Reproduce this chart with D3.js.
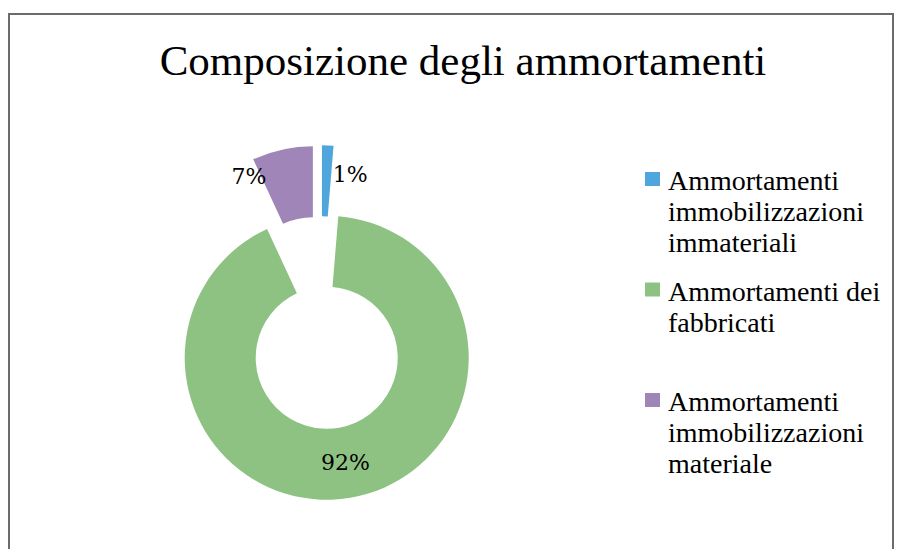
<!DOCTYPE html>
<html>
<head>
<meta charset="utf-8">
<script src="https://cdn.jsdelivr.net/npm/d3@7"></script>
<style>
  html, body { margin: 0; padding: 0; background: #ffffff; }
  svg { display: block; }
</style>
</head>
<body>
<svg id="chart" width="903" height="549"></svg>
<script>
// ---- data ----
const title = "Composizione degli ammortamenti";
const categories = [
  "Ammortamenti immobilizzazioni immateriali",
  "Ammortamenti dei fabbricati",
  "Ammortamenti immobilizzazioni materiale"
];
const legendLines = [
  ["Ammortamenti", "immobilizzazioni", "immateriali"],
  ["Ammortamenti dei", "fabbricati"],
  ["Ammortamenti", "immobilizzazioni", "materiale"]
];
const values = [1.3, 91.8, 6.9];
const colors = ["#4FA6DC", "#8EC283", "#9F85B8"];

// ---- layout ----
const W = 903, H = 549;
const cx = 320.5, cy = 322.8, outerR = 142, innerR = 71, explode = 35.5;
const labelNudge = [[24, -6], [0, 0], [-41, -8]];

const svg = d3.select("#chart");

// chart area border
svg.append("rect")
  .attr("x", 9).attr("y", 14)
  .attr("width", 884).attr("height", 600)
  .attr("fill", "#ffffff")
  .attr("stroke", "#6b6b6b")
  .attr("stroke-width", 2);

// title
svg.append("text")
  .attr("x", 463).attr("y", 75)
  .attr("text-anchor", "middle")
  .style("font-family", "'Liberation Serif', 'Times New Roman', serif")
  .style("font-size", "43px")
  .attr("fill", "#000")
  .text(title);

const total = d3.sum(values);
const pie = d3.pie().sort(null).value(d => d);
const arcs = pie(values);
const arc = d3.arc().innerRadius(innerR).outerRadius(outerR);
const midArc = d3.arc().innerRadius((innerR + outerR) / 2).outerRadius((innerR + outerR) / 2);

const g = svg.append("g").attr("transform", `translate(${cx},${cy})`);

const slices = g.selectAll("g.slice").data(arcs).enter().append("g")
  .attr("class", "slice")
  .attr("transform", d => {
    const a = (d.startAngle + d.endAngle) / 2;
    return `translate(${explode * Math.sin(a)},${-explode * Math.cos(a)})`;
  });

slices.append("path")
  .attr("d", arc)
  .attr("fill", (d, i) => colors[i]);

const fmt = d3.format(".0%");
slices.append("text")
  .attr("x", (d, i) => midArc.centroid(d)[0] + labelNudge[i][0])
  .attr("y", (d, i) => midArc.centroid(d)[1] + labelNudge[i][1])
  .attr("text-anchor", "middle")
  .attr("dominant-baseline", "central")
  .style("font-family", "'DejaVu Serif', 'Liberation Serif', serif")
  .style("font-size", "22px")
  .attr("fill", "#000")
  .text(d => fmt(d.data / total));

// legend
const legY = d3.scalePoint().domain(categories).range([179, 400]);
const leg = svg.append("g");
categories.forEach((c, i) => {
  const y = legY(c);
  leg.append("rect")
    .attr("x", 645).attr("y", y - 7)
    .attr("width", 15).attr("height", 14)
    .attr("fill", colors[i]);
  const t = leg.append("text")
    .attr("x", 668).attr("y", y + 11)
    .style("font-family", "'Liberation Serif', 'Times New Roman', serif")
    .style("font-size", "28px")
    .attr("fill", "#000");
  legendLines[i].forEach((line, j) => {
    t.append("tspan").attr("x", 668).attr("dy", j === 0 ? 0 : 31).text(line);
  });
});
</script>
</body>
</html>
